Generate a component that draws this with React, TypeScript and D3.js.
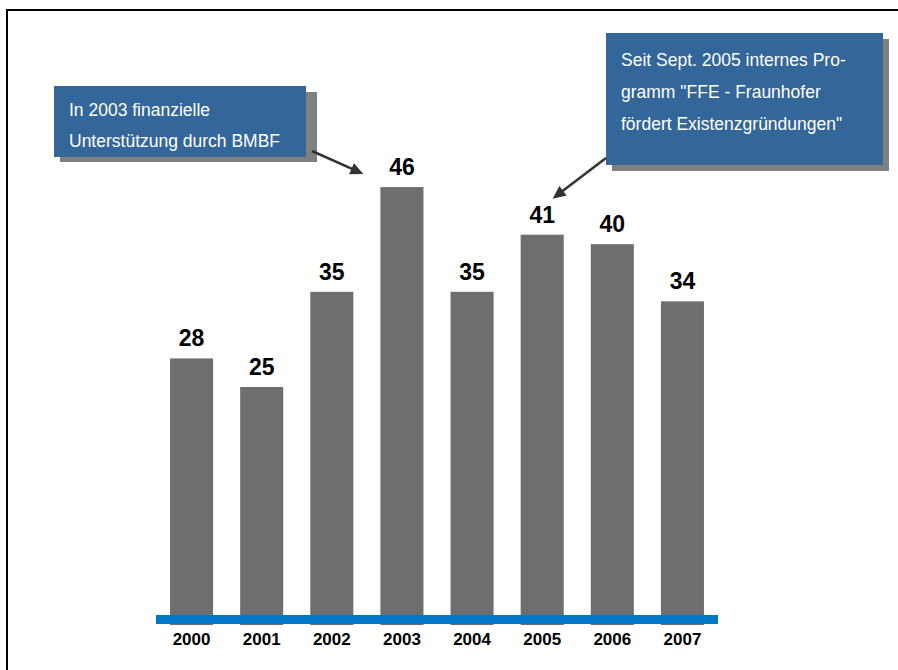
import React from "react";
import * as d3 from "d3";

const years = ["2000", "2001", "2002", "2003", "2004", "2005", "2006", "2007"];
const values = [28, 25, 35, 46, 35, 41, 40, 34];
const note1Lines = ["In 2003 finanzielle", "Unterstützung durch BMBF"];
const note2Lines = [
  "Seit Sept. 2005 internes Pro-",
  "gramm \"FFE - Fraunhofer",
  "fördert Existenzgründungen\"",
];

const W = 898;
const H = 670;
const FONT = "Arial, 'Liberation Sans', Helvetica, sans-serif";

export default function App() {
  const x = d3
    .scaleBand<string>()
    .domain(years)
    .range([156, 718])
    .paddingInner(0.386)
    .paddingOuter(0.2);
  const y = d3.scaleLinear().domain([0, 50]).range([625, 149]);
  const bw = x.bandwidth();

  const cx = (yr: string) => (x(yr) as number) + bw / 2;

  // arrows anchored to bars
  const a1Start: [number, number] = [312, 151];
  const a1End: [number, number] = [(x("2003") as number) - 17, y(46) - 13];
  const a2Start: [number, number] = [606, 158];
  const a2End: [number, number] = [(x("2005") as number) + 32, y(41) - 36];

  const arrowHead = (s: [number, number], e: [number, number]) => {
    const ang = Math.atan2(e[1] - s[1], e[0] - s[0]);
    const len = 13;
    const half = 6;
    const bx = e[0] - len * Math.cos(ang);
    const by = e[1] - len * Math.sin(ang);
    const px = -Math.sin(ang) * half;
    const py = Math.cos(ang) * half;
    return `M${e[0]},${e[1]}L${bx + px},${by + py}L${bx - px},${by - py}Z`;
  };
  const lineEnd = (s: [number, number], e: [number, number]) => {
    const ang = Math.atan2(e[1] - s[1], e[0] - s[0]);
    return [e[0] - 10 * Math.cos(ang), e[1] - 10 * Math.sin(ang)];
  };
  const l1 = lineEnd(a1Start, a1End);
  const l2 = lineEnd(a2Start, a2End);

  return (
    <div style={{ position: "absolute", left: 0, top: 0 }}>
      <svg width={W} height={H} style={{ display: "block", background: "#fff" }}>
        {/* frame (top and left edges visible) */}
        <line x1={7} y1={10} x2={W} y2={10} stroke="#000" strokeWidth={2} />
        <line x1={7} y1={9} x2={7} y2={H} stroke="#000" strokeWidth={2} />

        {/* bars */}
        {years.map((yr, i) => (
          <rect
            key={yr}
            x={x(yr)}
            y={y(values[i])}
            width={bw}
            height={y(0) - y(values[i])}
            fill="#6e6e6e"
          />
        ))}

        {/* baseline */}
        <rect x={156} y={615} width={718 - 156} height={9} fill="#0078c8" />

        {/* value labels */}
        {years.map((yr, i) => (
          <text
            key={"v" + yr}
            x={cx(yr)}
            y={y(values[i]) - 12}
            textAnchor="middle"
            fontFamily={FONT}
            fontWeight="bold"
            fontSize={23}
            fill="#000"
          >
            {values[i]}
          </text>
        ))}

        {/* year labels */}
        {years.map((yr) => (
          <text
            key={"y" + yr}
            x={cx(yr)}
            y={645}
            textAnchor="middle"
            fontFamily={FONT}
            fontWeight="bold"
            fontSize={17}
            fill="#000"
          >
            {yr}
          </text>
        ))}

        {/* annotation 1 */}
        <rect x={60} y={92} width={257} height={70} fill="#808080" />
        <rect x={54} y={86} width={252} height={71} fill="#336699" />
        {note1Lines.map((t, i) => (
          <text
            key={"n1" + i}
            x={69}
            y={116 + i * 31}
            fontFamily={FONT}
            fontSize={17.5}
            fill="#fff"
          >
            {t}
          </text>
        ))}

        {/* annotation 2 */}
        <rect x={612} y={39} width={277} height={132} fill="#808080" />
        <rect x={606} y={33} width={277} height={132} fill="#336699" />
        {note2Lines.map((t, i) => (
          <text
            key={"n2" + i}
            x={621}
            y={66 + i * 32}
            fontFamily={FONT}
            fontSize={17.5}
            fill="#fff"
          >
            {t}
          </text>
        ))}

        {/* arrows */}
        <line x1={a1Start[0]} y1={a1Start[1]} x2={l1[0]} y2={l1[1]} stroke="#333" strokeWidth={2.5} />
        <path d={arrowHead(a1Start, a1End)} fill="#333" />
        <line x1={a2Start[0]} y1={a2Start[1]} x2={l2[0]} y2={l2[1]} stroke="#333" strokeWidth={2.5} />
        <path d={arrowHead(a2Start, a2End)} fill="#333" />
      </svg>
    </div>
  );
}
